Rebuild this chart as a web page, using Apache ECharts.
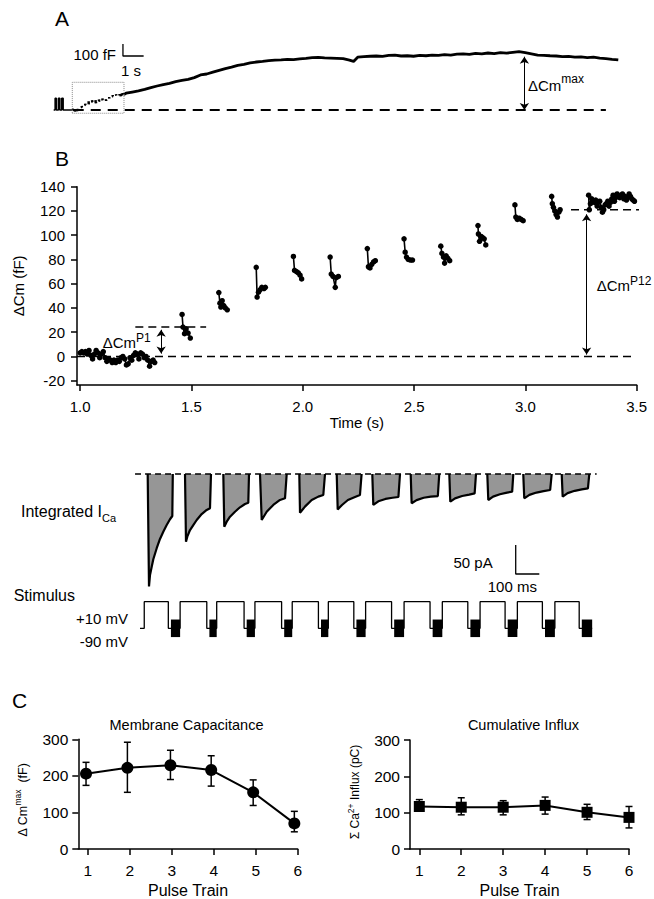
<!DOCTYPE html>
<html><head><meta charset="utf-8">
<script src="https://cdn.jsdelivr.net/npm/echarts@6/dist/echarts.min.js"></script>
<style>html,body{margin:0;padding:0;background:#fff}#c{width:654px;height:899px}</style>
</head><body><div id="c"></div>
<script>
const FONT = "'Liberation Sans', Arial, Helvetica, sans-serif";

// ---------------- Panel A: full capacitance record (t in s, Cm in fF) ----------------
const aPreT = [0.10,0.17,0.17,0.23,0.23,0.33,0.33,0.40,0.40,0.49,0.49,0.56,0.56,1.00];
const aPreV = [0,0,97,97,0,0,97,97,0,0,97,97,0,0];
const aTrace = [[3.6,140],[3.9,150],[4.2,160],[4.5,172],[4.8,186],[5.1,200],[5.4,212],[5.7,222],[6.0,236],[6.3,246],
 [6.6,255],[6.9,270],[7.2,292],[7.5,300],[7.8,315],[8.1,330],[8.4,345],[8.7,358],[9.0,372],[9.3,380],
 [9.6,392],[9.9,400],[10.2,405],[10.5,412],[10.8,416],[11.1,418],[11.4,422],[11.7,420],[12.0,426],[12.3,430],
 [12.6,436],[12.9,438],[13.2,434],[13.5,432],[13.8,430],[14.1,428],[14.4,415],[14.6,405],[14.8,440],[15.1,445],
 [15.4,448],[15.7,450],[16.0,447],[16.3,455],[16.6,458],[16.9,450],[17.2,452],[17.5,448],[17.8,455],[18.1,452],
 [18.4,458],[18.7,455],[19.0,462],[19.3,458],[19.6,465],[19.9,468],[20.2,463],[20.5,472],[20.8,468],[21.1,475],
 [21.4,470],[21.7,478],[22.0,474],[22.3,480],[22.6,486],[22.9,478],[23.2,468],[23.5,458],[23.8,455],[24.1,452],
 [24.4,450],[24.7,445],[25.0,447],[25.3,440],[25.6,442],[25.9,437],[26.2,440],[26.5,432],[26.8,428],[27.1,422],[27.4,417]];
const aBaseT = [1.07, 26.8];
const aBoxT = [1.0, 3.5], aBoxV = [-27, 231];
const aMaxT = 22.86, aMaxV = 444;
const aBarT = [3.45, 4.45], aBarV = [450, 550];   // 1 s / 100 fF scale bar

// ---------------- Panel B: clusters of ΔCm (fF) vs time (s) ----------------
const bTime = [
 [1.000,1.008,1.016,1.024,1.032,1.040,1.048,1.056,1.064,1.072,1.080,1.088,1.096,1.104,1.112,1.120,1.128,1.136,1.144,1.152,1.160,1.168,1.176,1.184,1.192,1.200,1.208,1.216,1.224,1.232,1.240,1.248,1.256,1.264,1.272,1.280,1.288,1.296,1.304,1.312,1.320,1.328,1.335],
 [1.458,1.462,1.469,1.476,1.485,1.495],
 [1.623,1.628,1.632,1.638,1.645,1.652,1.661],
 [1.791,1.795,1.801,1.808,1.816,1.826,1.832],
 [1.958,1.963,1.972,1.980,1.988,1.995],
 [2.123,2.128,2.136,2.146,2.150,2.160],
 [2.290,2.295,2.302,2.310,2.318,2.326],
 [2.455,2.460,2.466,2.474,2.484,2.493],
 [2.620,2.625,2.632,2.637,2.644,2.652,2.660],
 [2.787,2.789,2.794,2.801,2.808,2.815,2.822],
 [2.953,2.957,2.964,2.972,2.981,2.990],
 [3.118,3.121,3.126,3.132,3.138,3.144,3.150,3.156],
 [3.284,3.287,3.292,3.298,3.304,3.310,3.316,3.322,3.328,3.334,3.340,3.346,3.352,3.358,3.364,3.370,3.376,3.382,3.388,3.394,3.400,3.406,3.412,3.418,3.424,3.430,3.436,3.442,3.448,3.454,3.460,3.466,3.472,3.478,3.484,3.490]
];
const bCap = [
 [3,4,3,4,2,5,1,-2,2,5,3,-1,2,4,-1,-4,-2,-3,-5,-3,-5,-3,-4,-1,0,-2,-7,-6,-1,-3,1,3,2,-2,3,2,-1,0,-3,-8,-4,-3,-5],
 [34.7,24.3,18.8,22.9,19.3,15.2],
 [52.7,44,40.8,46,42,40,38.5],
 [73.5,49,53,55,57,56,57],
 [82.5,71,70,69,67,64],
 [82,68,66,57,65,66],
 [89,74,73,76,78,79],
 [97,86,82,80,79.5,79.5],
 [91,85,82,77,83,81,79],
 [108,101,95,99,98,97,92],
 [125,115,113,114,113,112],
 [132,126,123,120,117,115,119,121],
 [133,121,126,130,128,127,129,124,127,128,123,119,121,125,126,128,124,127,130,133,128,131,134,132,131,133,134,130,132,129,131,134,132,130,129,128]
];
const bXTicks = [1.0,1.5,2.0,2.5,3.0,3.5];
const bYTicks = [-20,0,20,40,60,80,100,120,140];
const bP1Level = 24.3, bP1T = [1.248,1.566], bP1ArrowT = 1.364;
const bP12Level = 121, bP12T = [3.205,3.52], bP12ArrowT = 3.275;

// ---------------- Integrated ICa traces (t in ms, pA) ----------------
const icaT = [
 [32.6,38.1,42.4,49.6,56.4,70.8,84.7,98.7,113.1,127.1,136.9,139],
 [190.7,194.9,200.4,211.9,225.8,240.3,261.4,282.6,296.6,300.8],
 [353,357.2,367.4,381.4,402.5,423.7,444.9,458.9,461.9],
 [508.5,515.7,536.9,564.8,593.2,614.4,621.6],
 [675,678,699,727.5,755.5,776.7,783.9],
 [833.5,837.7,856,881,911,932,939],
 [984.3,988.6,1010,1040,1070,1095,1101.7],
 [1147,1151,1172,1202,1232,1262,1268],
 [1310.6,1314.8,1335,1365,1395,1418,1423.7],
 [1471.6,1475.8,1496,1525,1555,1577,1581.8],
 [1624,1628.2,1650,1680,1710,1738,1744.5],
 [1786.9,1791,1812,1842,1872,1898,1903.8]
];
const icaV = [
 [0,-194,-174,-160,-147,-128,-112,-99.5,-88,-78,-72.4,0],
 [0,-116.7,-108,-96.6,-88,-79.3,-69,-62,-59,0],
 [0,-90.9,-82.2,-73.6,-65,-57.4,-51.7,-49.5,0],
 [0,-79.3,-65,-53.4,-44.8,-41.9,0],
 [0,-66.7,-56.3,-44.8,-39,-36.2,0],
 [0,-61,-53.4,-44.8,-39.7,-36.2,0],
 [0,-53.4,-47,-43,-41,-39.7,0],
 [0,-50.5,-45,-41,-39,-38,0],
 [0,-47.8,-42,-38,-35.5,-33.3,0],
 [0,-44.8,-39,-35,-32,-30.5,0],
 [0,-41.9,-36,-32,-29.5,-27.6,0],
 [0,-39.1,-33,-29,-26.5,-24.7,0]
];
const icaBaseT = [-21, 1935];
const icaBarT = [1592, 1692], icaBarV = [-172.4, -122.4];  // 100 ms / 50 pA

// ---------------- Stimulus (ms, mV) ----------------
const stimOn  = [18,170,325,487,645,798,956,1119,1281,1441,1599,1758];
const stimOff = [120,283,441,600,756,906,1066,1229,1389,1547,1705,1861];
const sineOn  = [131,294,452,611,767,917,1077,1240,1400,1558,1716,1872];
const sineOff = [170,325,487,645,798,956,1119,1281,1441,1599,1758,1916];
const stimHigh = 10, stimLow = -90, sineTop = -57, sineBottom = -123;

// ---------------- Panel C ----------------
const trainTicks = [1,2,3,4,5,6];
const cmX = [0.96,1.945,2.97,3.94,4.94,5.92];
const cmMean = [206,222,229,216,155,70];
const cmLo = [174,155,190,172,119,47];
const cmHi = [237,292,270,255,189,103];
const inX = [1,2,3,4,5,6];
const inMean = [117,115,115,120,101,87];
const inLo = [105,94,94,96,81,58];
const inHi = [136,141,133,143,123,117];

// ================= build =================
const chart = echarts.init(document.getElementById('c'), null, {renderer:'svg', width:654, height:899});
const BLACK = '#000';
const grid = [
 {left:40, top:30, width:600, height:95},
 {left:77, top:186.7, width:559.7, height:198.3},
 {left:128.2, top:465, width:507.4, height:135},
 {left:128.2, top:595, width:507.4, height:50},
 {left:78.3, top:739.3, width:219.4, height:111.4},
 {left:410, top:740, width:219, height:111.7}
];
const lineAx = {show:true, onZero:false, lineStyle:{color:BLACK, width:1.5}};
function tick(cv){ return {show:true, length:6, customValues:cv, lineStyle:{color:BLACK, width:1.5}}; }
const xAxis = [
 {gridIndex:0, type:'value', min:-0.561, max:28.45, show:false},
 {gridIndex:1, type:'value', min:0.986, max:3.5, axisLine:lineAx, axisTick:tick(bXTicks), splitLine:{show:false},
  axisLabel:{customValues:bXTicks, formatter:v=>v.toFixed(1), fontSize:15, margin:14, color:BLACK, fontFamily:FONT},
  name:'Time (s)', nameLocation:'middle', nameGap:19, nameTextStyle:{fontSize:15, color:BLACK, fontFamily:FONT}},
 {gridIndex:2, type:'value', min:-50, max:2100, show:false},
 {gridIndex:3, type:'value', min:-50, max:2100, show:false},
 {gridIndex:4, type:'value', min:0.776, max:6, axisLine:lineAx, axisTick:tick(trainTicks), splitLine:{show:false},
  axisLabel:{customValues:trainTicks, fontSize:15.5, margin:13, color:BLACK, fontFamily:FONT},
  name:'Pulse Train', nameLocation:'middle', nameGap:33, nameTextStyle:{fontSize:16, color:BLACK, fontFamily:FONT}},
 {gridIndex:5, type:'value', min:0.778, max:6, axisLine:lineAx, axisTick:tick(trainTicks), splitLine:{show:false},
  axisLabel:{customValues:trainTicks, fontSize:15.5, margin:13, color:BLACK, fontFamily:FONT},
  name:'Pulse Train', nameLocation:'middle', nameGap:33, nameTextStyle:{fontSize:16, color:BLACK, fontFamily:FONT}}
];
const cYTicks = [0,100,200,300];
const yAxis = [
 {gridIndex:0, type:'value', min:-125, max:666.7, show:false},
 {gridIndex:1, type:'value', min:-23.5, max:140, axisLine:lineAx, axisTick:tick(bYTicks), splitLine:{show:false},
  axisLabel:{customValues:bYTicks, fontSize:15, margin:12, color:BLACK, fontFamily:FONT},
  name:'ΔCm (fF)', nameLocation:'middle', nameRotate:90, nameGap:51, nameTextStyle:{fontSize:15, color:BLACK, fontFamily:FONT}},
 {gridIndex:2, type:'value', min:-217.24, max:15.52, show:false},
 {gridIndex:3, type:'value', min:-152.78, max:35.19, show:false},
 {gridIndex:4, type:'value', min:0, max:300, axisLine:lineAx, axisTick:tick(cYTicks), splitLine:{show:false},
  axisLabel:{customValues:cYTicks, fontSize:15.5, margin:10, color:BLACK, fontFamily:FONT}},
 {gridIndex:5, type:'value', min:0, max:300, axisLine:lineAx, axisTick:tick(cYTicks), splitLine:{show:false},
  axisLabel:{customValues:cYTicks, fontSize:15.5, margin:10, color:BLACK, fontFamily:FONT}}
];

const series = [];
function L(g, data, style, extra){
  series.push(Object.assign({type:'line', xAxisIndex:g, yAxisIndex:g, data, symbol:'none', silent:true, animation:false,
    lineStyle:Object.assign({color:BLACK, width:1.5}, style||{}), itemStyle:{color:BLACK}}, extra||{}));
}
function arrow(g, t, v0, v1){
  series.push({type:'line', xAxisIndex:g, yAxisIndex:g, data:[], silent:true, animation:false,
    markLine:{silent:true, animation:false, symbol:['arrow','arrow'], symbolSize:7, label:{show:false},
      lineStyle:{color:BLACK, width:1, type:'solid'}, emphasis:{disabled:true},
      data:[[{coord:[t, v0]},{coord:[t, v1]}]]}});
}

// Panel A
L(0, aPreT.map((t,i)=>[t, aPreV[i]]), {width:1.5});
bTime.forEach((ts,k)=> L(0, ts.map((t,i)=>[t, bCap[k][i]]), {width:2.5}));
L(0, [[bTime[12][bTime[12].length-1], bCap[12][bCap[12].length-1]]].concat(aTrace), {width:2.8});
L(0, [[aBaseT[0],0],[aBaseT[1],0]], {width:1.8, type:[10,7]});
L(0, [[aBoxT[0],aBoxV[0]],[aBoxT[1],aBoxV[0]],[aBoxT[1],aBoxV[1]],[aBoxT[0],aBoxV[1]],[aBoxT[0],aBoxV[0]]], {width:1, color:'#888', type:'dotted'});
arrow(0, aMaxT, 0, aMaxV);
L(0, [[aBarT[0],aBarV[1]],[aBarT[0],aBarV[0]],[aBarT[1],aBarV[0]]], {width:1.3});

// Panel B
bTime.forEach((ts,k)=> L(1, ts.map((t,i)=>[t, bCap[k][i]]), {width:1.6},
  {symbol:'circle', symbolSize:5.5, showSymbol:true, showAllSymbol:true}));
L(1, [[0.986,0],[3.49,0]], {width:1.5, type:[8,5]});
L(1, [[bP1T[0],bP1Level],[bP1T[1],bP1Level]], {width:1.5, type:[8,5]});
L(1, [[bP12T[0],bP12Level],[bP12T[1],bP12Level]], {width:1.5, type:[8,5]}, {clip:false});
arrow(1, bP1ArrowT, 22, 2.4);
arrow(1, bP12ArrowT, 117.2, 1.6);

// Integrated ICa
icaT.forEach((ts,k)=> L(2, ts.map((t,i)=>[t, icaV[k][i]]), {width:2.2},
  {areaStyle:{color:'#969696', opacity:1, origin:0}, clip:false}));
L(2, [[icaBaseT[0],0],[icaBaseT[1],0]], {width:1.4, type:[6,4]}, {clip:false, z:5});
L(2, [[icaBarT[0],icaBarV[1]],[icaBarT[0],icaBarV[0]],[icaBarT[1],icaBarV[0]]], {width:1.3});

// Stimulus
const stimLine = [[0, stimLow]];
stimOn.forEach((on,i)=>{ stimLine.push([on,stimLow],[on,stimHigh],[stimOff[i],stimHigh],[stimOff[i],stimLow],[sineOff[i],stimLow]); });
L(3, stimLine, {width:1.3}, {clip:false});
series.push({type:'custom', xAxisIndex:3, yAxisIndex:3, silent:true, animation:false, clip:false,
  data: sineOn.map((s,i)=>[s, sineOff[i], sineTop, sineBottom]),
  encode:{x:[0,1], y:[2,3]},
  renderItem:(p,api)=>{ const a=api.coord([api.value(0),api.value(2)]), b=api.coord([api.value(1),api.value(3)]);
    return {type:'rect', shape:{x:a[0], y:a[1], width:b[0]-a[0], height:b[1]-a[1]}, style:{fill:BLACK}}; }});

// Panel C
function errBars(g, xs, lo, hi){
  series.push({type:'custom', xAxisIndex:g, yAxisIndex:g, silent:true, animation:false,
    data: xs.map((x,i)=>[x, lo[i], hi[i]]), encode:{x:0, y:[1,2]},
    renderItem:(p,api)=>{ const a=api.coord([api.value(0),api.value(1)]), b=api.coord([api.value(0),api.value(2)]); const w=3.5;
      const st={stroke:BLACK, lineWidth:1.5};
      return {type:'group', children:[
        {type:'line', shape:{x1:a[0],y1:a[1],x2:b[0],y2:b[1]}, style:st},
        {type:'line', shape:{x1:a[0]-w,y1:a[1],x2:a[0]+w,y2:a[1]}, style:st},
        {type:'line', shape:{x1:b[0]-w,y1:b[1],x2:b[0]+w,y2:b[1]}, style:st}]}; }});
}
errBars(4, cmX, cmLo, cmHi);
L(4, cmX.map((x,i)=>[x, cmMean[i]]), {width:2}, {symbol:'circle', symbolSize:12, showSymbol:true, z:3});
errBars(5, inX, inLo, inHi);
L(5, inX.map((x,i)=>[x, inMean[i]]), {width:2}, {symbol:'rect', symbolSize:11, showSymbol:true, z:3});

// Text annotations
function T(x, y, text, fs, align, extra){
  return Object.assign({type:'text', x, y, silent:true, style:{text, fill:BLACK, fontSize:fs, fontFamily:FONT,
    align:align||'left', verticalAlign:'middle'}}, extra||{});
}
function supText(x, y, main, sup, fs, sfs, L0, align){
  return {type:'text', x, y, silent:true, style:{text:'{a|'+main+'}{s|'+sup+'}', fill:BLACK, align:align||'left', verticalAlign:'middle',
    rich:{a:{fontSize:fs, lineHeight:L0, fontFamily:FONT}, s:{fontSize:sfs, lineHeight:10, verticalAlign:'top', fontFamily:FONT}}}};
}
const graphic = [
  T(55, 18, 'A', 21), T(55, 158, 'B', 21), T(12, 700, 'C', 21),
  T(116, 54, '100 fF', 15, 'right'), T(121, 70, '1 s', 15),
  supText(528, 85, 'ΔCm', 'max', 15, 12, 24),
  supText(102.7, 342.5, 'ΔCm', 'P1', 15, 12, 22),
  supText(596.7, 285.5, 'ΔCm', 'P12', 15, 12, 22),
  {type:'text', x:116, y:511.7, silent:true, style:{text:'{a|Integrated I}{b|Ca}', fill:BLACK, align:'right', verticalAlign:'middle',
    rich:{a:{fontSize:16, lineHeight:24, fontFamily:FONT}, b:{fontSize:11, lineHeight:14, verticalAlign:'bottom', fontFamily:FONT}}}},
  T(75, 595.7, 'Stimulus', 16, 'right'),
  T(128, 618.3, '+10 mV', 15, 'right'), T(128, 641.7, '-90 mV', 15, 'right'),
  T(492.7, 562.7, '50 pA', 15, 'right'), T(487.7, 586.7, '100 ms', 15),
  T(186.5, 725, 'Membrane Capacitance', 14.5, 'center'),
  T(523.5, 725, 'Cumulative Influx', 14.5, 'center'),
  {type:'text', x:22.7, y:800, rotation:Math.PI/2, silent:true, style:{text:'{a|Δ Cm}{s|max}{a|  (fF)}', fill:BLACK, align:'center', verticalAlign:'middle',
    rich:{a:{fontSize:12.5, lineHeight:18, fontFamily:FONT}, s:{fontSize:8.5, lineHeight:8, verticalAlign:'top', fontFamily:FONT}}}},
  {type:'text', x:355, y:792, rotation:Math.PI/2, silent:true, style:{text:'{a|Σ Ca}{s|2+}{a| Influx (pC)}', fill:BLACK, align:'center', verticalAlign:'middle',
    rich:{a:{fontSize:12, lineHeight:18, fontFamily:FONT}, s:{fontSize:8.5, lineHeight:8, verticalAlign:'top', fontFamily:FONT}}}}
];

chart.setOption({animation:false, backgroundColor:'#fff', textStyle:{fontFamily:FONT}, grid, xAxis, yAxis, series, graphic});
</script></body></html>
